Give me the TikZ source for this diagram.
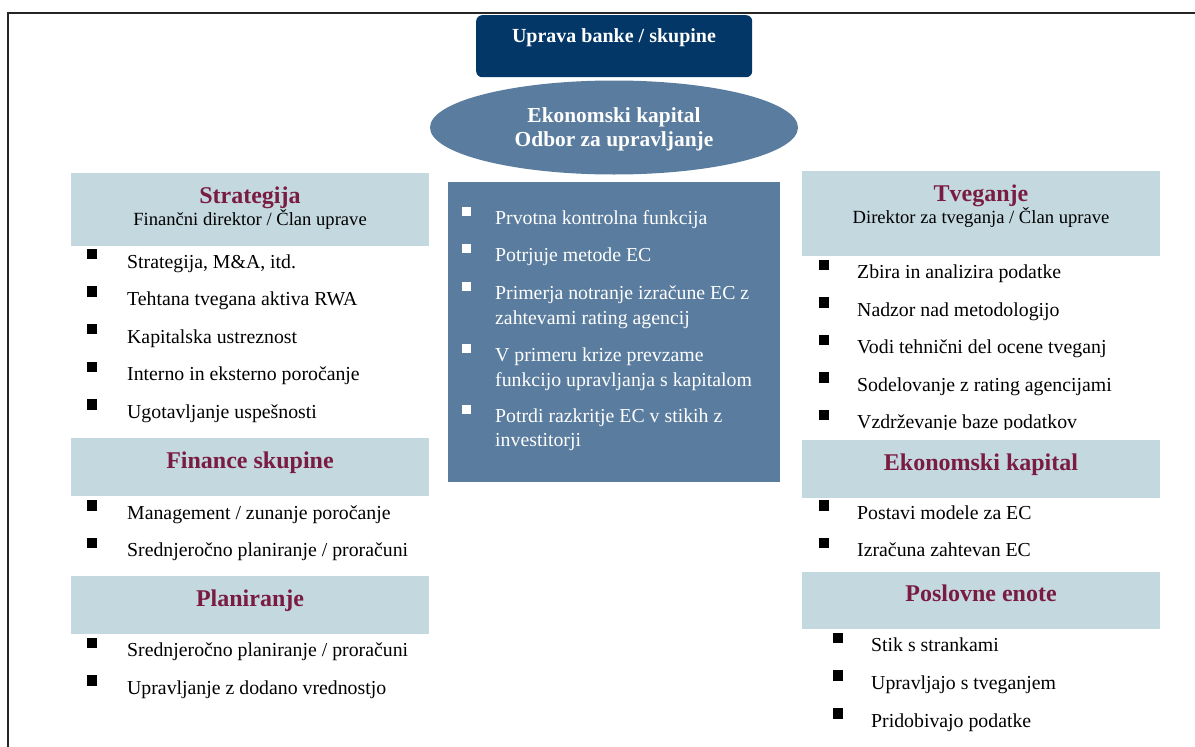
\documentclass[tikz,border=0pt]{standalone}
\usepackage{fontspec}
\setmainfont{Liberation Serif}
\usetikzlibrary{shapes.geometric}
\definecolor{boardblue}{RGB}{3,55,104}
\definecolor{steel}{RGB}{90,124,158}
\definecolor{paleblue}{RGB}{196,216,224}
\definecolor{wine}{RGB}{122,28,66}
\tikzset{
  frameline/.style={line width=2pt, draw=black!85},
  hdrbox/.style={fill=paleblue, anchor=north west, inner sep=0pt, outer sep=0pt},
  hdrtitle/.style={anchor=base, text=wine, inner sep=0pt, font=\fontsize{24}{28}\selectfont\bfseries},
  hdrsub/.style={anchor=base, inner sep=0pt, font=\fontsize{18.6}{22}\selectfont},
  itemtext/.style={anchor=base west, inner sep=0pt, font=\fontsize{19.8}{24}\selectfont},
  ctrtext/.style={itemtext, text=white},
  blk/.style={fill=black, minimum width=10pt, minimum height=10.5pt, inner sep=0pt, outer sep=0pt},
  wht/.style={fill=white, minimum width=9.5pt, minimum height=9pt, inner sep=0pt, outer sep=0pt},
}
\begin{document}
\begin{tikzpicture}[x=1pt,y=-1pt]
\useasboundingbox (0,0) rectangle (1195,747);

% outer frame (top and left edges)
\coordinate (fr1) at (8.3,747);
\coordinate (fr2) at (8.3,12.5);
\coordinate (fr3) at (1195,12.5);
\draw[frameline] (fr1) -- (fr2) -- (fr3);

% board and committee
\node[fill=boardblue, rounded corners=6pt, anchor=north west, minimum width=276pt, minimum height=62pt, inner sep=0pt] (board) at (476,15) {};
\node[anchor=base, text=white, font=\fontsize{20}{24}\selectfont\bfseries] (boardtxt) at (614,42) {Uprava banke / skupine};
\node[ellipse, fill=steel, minimum width=368pt, minimum height=94pt, inner sep=0pt] (cmt) at (614,127.5) {};
\node[anchor=base, text=white, font=\fontsize{21.4}{25}\selectfont\bfseries] (cmt1) at (614,122.7) {Ekonomski kapital};
\node[anchor=base, text=white, font=\fontsize{21.4}{25}\selectfont\bfseries] (cmt2) at (614,146) {Odbor za upravljanje};

% central panel
\node[fill=steel, anchor=north west, minimum width=332pt, minimum height=300pt, inner sep=0pt] (panel) at (448,182) {};
\node[wht] (cb1) at (466.5,211) {};
\node[ctrtext] (c1) at (495,224) {Prvotna kontrolna funkcija};
\node[wht] (cb2) at (466.5,248.7) {};
\node[ctrtext] (c2) at (495,261.7) {Potrjuje metode EC};
\node[wht] (cb3) at (466.5,286.3) {};
\node[ctrtext] (c3a) at (495,299.3) {Primerja notranje izračune EC z};
\node[ctrtext] (c3b) at (495,324) {zahtevami rating agencij};
\node[wht] (cb4) at (466.5,348.7) {};
\node[ctrtext] (c4a) at (495,361.7) {V primeru krize prevzame};
\node[ctrtext] (c4b) at (495,386) {funkcijo upravljanja s kapitalom};
\node[wht] (cb5) at (466.5,409) {};
\node[ctrtext] (c5a) at (495,422) {Potrdi razkritje EC v stikih z};
\node[ctrtext] (c5b) at (495,446.5) {investitorji};

% left column: Strategija
\node[hdrbox, minimum width=358pt, minimum height=73pt] (strat) at (71,173) {};
\node[hdrtitle] (strat1) at (250,203) {Strategija};
\node[hdrsub] (strat2) at (250,225) {Finančni direktor / Član uprave};
\node[blk] (sb1) at (92,254) {};
\node[itemtext] (s1) at (127,268) {Strategija, M\&A, itd.};
\node[blk] (sb2) at (92,291.6) {};
\node[itemtext] (s2) at (127,305.6) {Tehtana tvegana aktiva RWA};
\node[blk] (sb3) at (92,329.2) {};
\node[itemtext] (s3) at (127,343.2) {Kapitalska ustreznost};
\node[blk] (sb4) at (92,366.8) {};
\node[itemtext] (s4) at (127,380.8) {Interno in eksterno poročanje};
\node[blk] (sb5) at (92,404.4) {};
\node[itemtext] (s5) at (127,418.4) {Ugotavljanje uspešnosti};

% left column: Finance skupine
\node[hdrbox, minimum width=358pt, minimum height=58pt] (fin) at (71,438) {};
\node[hdrtitle] (fin1) at (250,468.5) {Finance skupine};
\node[blk] (fb1) at (92,505.5) {};
\node[itemtext] (f1) at (127,519.3) {Management / zunanje poročanje};
\node[blk] (fb2) at (92,543) {};
\node[itemtext] (f2) at (127,556.7) {Srednjeročno planiranje / proračuni};

% left column: Planiranje
\node[hdrbox, minimum width=358pt, minimum height=58pt] (plan) at (71,576) {};
\node[hdrtitle] (plan1) at (250,606) {Planiranje};
\node[blk] (pb1) at (92,643) {};
\node[itemtext] (p1) at (127,656.7) {Srednjeročno planiranje / proračuni};
\node[blk] (pb2) at (92,680.5) {};
\node[itemtext] (p2) at (127,694.3) {Upravljanje z dodano vrednostjo};

% right column: Tveganje
\node[hdrbox, minimum width=358pt, minimum height=85pt] (risk) at (802,171) {};
\node[hdrtitle] (risk1) at (981,201.7) {Tveganje};
\node[hdrsub] (risk2) at (981,223.3) {Direktor za tveganja / Član uprave};
\node[blk] (rb1) at (823.5,265) {};
\node[itemtext] (r1) at (857,278.3) {Zbira in analizira podatke};
\node[blk] (rb2) at (823.5,302.7) {};
\node[itemtext] (r2) at (857,316) {Nadzor nad metodologijo};
\node[blk] (rb3) at (823.5,340) {};
\node[itemtext] (r3) at (857,353.3) {Vodi tehnični del ocene tveganj};
\node[blk] (rb4) at (823.5,377.7) {};
\node[itemtext] (r4) at (857,391) {Sodelovanje z rating agencijami};
\node[blk] (rb5) at (823.5,415) {};
\begin{scope}
  \clip (840,395) rectangle (1195,429.5);
  \node[itemtext] (r5) at (857,428.5) {Vzdrževanje baze podatkov};
\end{scope}

% right column: Ekonomski kapital
\node[hdrbox, minimum width=358pt, minimum height=58pt] (ec) at (802,440) {};
\node[hdrtitle] (ec1) at (981,470) {Ekonomski kapital};
\node[blk] (eb1) at (823.5,505.5) {};
\node[itemtext] (e1) at (857,519.3) {Postavi modele za EC};
\node[blk] (eb2) at (823.5,543) {};
\node[itemtext] (e2) at (857,556.7) {Izračuna zahtevan EC};

% right column: Poslovne enote
\node[hdrbox, minimum width=358pt, minimum height=57pt] (bu) at (802,572.3) {};
\node[hdrtitle] (bu1) at (981,601.7) {Poslovne enote};
\node[blk] (ub1) at (838,638) {};
\node[itemtext] (u1) at (871,651.7) {Stik s strankami};
\node[blk] (ub2) at (838,675.5) {};
\node[itemtext] (u2) at (871,689.3) {Upravljajo s tveganjem};
\node[blk] (ub3) at (838,713.3) {};
\node[itemtext] (u3) at (871,727) {Pridobivajo podatke};
\end{tikzpicture}
\end{document}
